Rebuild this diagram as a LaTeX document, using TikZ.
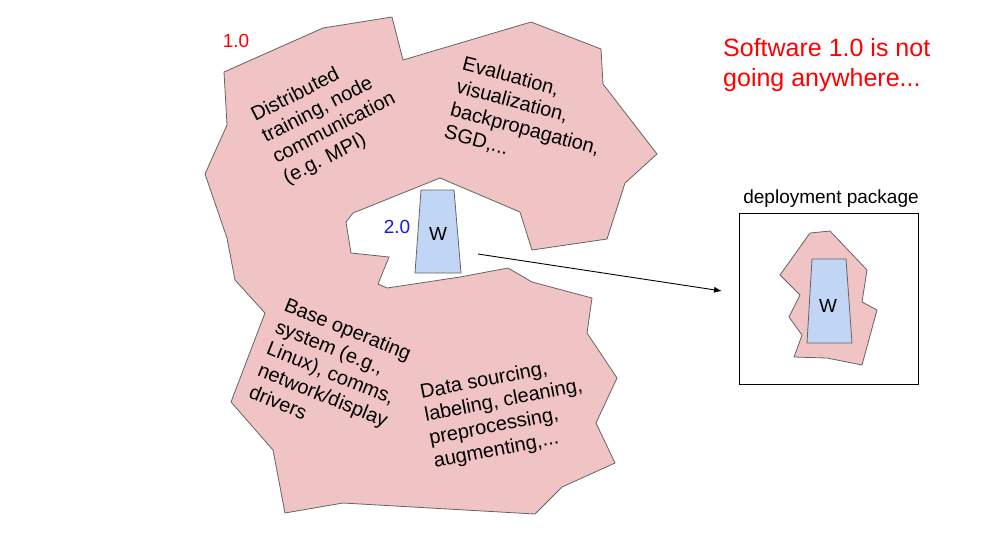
\documentclass[tikz,border=0pt]{standalone}
\usepackage{fontspec}
\setmainfont{Liberation Sans}
\usetikzlibrary{arrows.meta}
\definecolor{blobpink}{RGB}{240,196,196}
\definecolor{wblue}{RGB}{193,213,245}
\definecolor{edgegray}{RGB}{100,100,100}
\definecolor{redlabel}{RGB}{255,0,0}
\definecolor{bluelabel}{RGB}{20,20,255}
\tikzset{
  blob/.style={fill=blobpink, draw=edgegray, line width=0.8pt, line join=miter},
  wshape/.style={fill=wblue, draw=edgegray, line width=0.8pt},
  body/.style={font=\fontsize{20}{23.5}\selectfont, align=left, inner sep=0pt, text=black},
  bigred/.style={font=\fontsize{25}{30}\selectfont, align=left, inner sep=0pt, text=redlabel},
  tag/.style={font=\fontsize{19}{22}\selectfont, inner sep=0pt},
  connector/.style={draw=black, line width=0.9pt, -{Latex[length=8pt,width=6pt]}},
  pkgbox/.style={draw=black, line width=0.9pt, inner sep=0pt, minimum width=179pt, minimum height=171pt, anchor=north west}
}
\begin{document}
\begin{tikzpicture}[x=1pt,y=-1pt]
\useasboundingbox (0,0) rectangle (1000,558);
% main 1.0 blob
\draw[blob] (224,72) -- (323,28) -- (392,17) -- (403,60) -- (531,22) -- (601,49)
  -- (603,84) -- (657,154) -- (625,183) -- (607,239) -- (532,250) -- (520,212)
  -- (440,178) -- (353,213) -- (346,222) -- (351,253) -- (389,257) -- (378,284)
  -- (387,288) -- (460,277) -- (508,268) -- (532,282) -- (592,298) -- (587,333)
  -- (617,378) -- (596,423) -- (615,463) -- (562,487) -- (535,514) -- (343,503)
  -- (285,513) -- (273,450) -- (231,402) -- (265,313) -- (235,280) -- (227,238)
  -- (205,174) -- (227,125) -- cycle;
% W trapezoid
\draw[wshape] (421,190) -- (454,190) -- (461,273) -- (415,273) -- cycle;
\node[tag, anchor=base] (w1) at (438,240) {W};
\node[tag, anchor=base, text=bluelabel] (v2) at (397,233) {2.0};
\node[tag, anchor=base, text=redlabel] (v1) at (236,47) {1.0};
% texts in blob
\node[body, rotate=27] (distrib) at (329,118) {Distributed\\training, node\\communication\\(e.g. MPI)};
\node[body, rotate=-15] (evalt) at (528,118) {Evaluation,\\visualization,\\backpropagation,\\SGD,...};
\node[body, rotate=-22] (baseos) at (332,373) {Base operating\\system (e.g.,\\Linux), comms,\\network/display\\drivers};
\node[body, rotate=11] (datas) at (506,413) {Data sourcing,\\labeling, cleaning,\\preprocessing,\\augmenting,...};
% headline
\node[bigred, anchor=base west] (headline) at (723,86) {Software 1.0 is not\\going anywhere...};
% deployment package
\node[pkgbox] (pkg) at (739,213) {};
\node[tag, anchor=base] (pkglabel) at (831,203) {deployment package};
\draw[blob] (810,233) -- (830,231) -- (867,270) -- (862,302) -- (877,310) -- (862,365)
  -- (827,358) -- (794,357) -- (802,335) -- (789,317) -- (800,295) -- (780,275) -- cycle;
\draw[wshape] (812,259) -- (846,259) -- (852,343) -- (807,343) -- cycle;
\node[tag, anchor=base] (w2) at (828,312) {W};
% arrow
\coordinate (wout) at (478,254);
\coordinate (pkgin) at (722,291);
\draw[connector] (wout) -- (pkgin);
\end{tikzpicture}
\end{document}
